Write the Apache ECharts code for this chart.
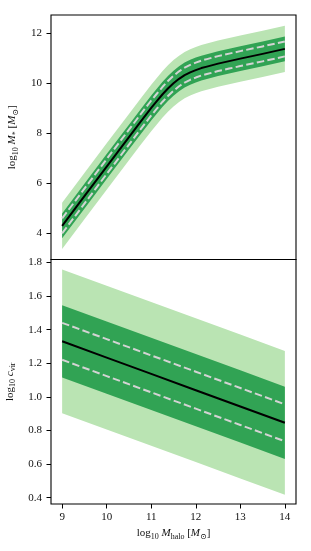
<!DOCTYPE html>
<html>
<head>
<meta charset="utf-8">
<script src="https://cdn.jsdelivr.net/npm/echarts@6/dist/echarts.min.js"></script>
<style>
html,body{margin:0;padding:0;background:#fff;}
#c{width:311px;height:551px;}
</style>
</head>
<body>
<div id="c"></div>
<script>
// ---- Top panel: stellar mass vs halo mass ----
const topX = [9, 9.5, 10, 10.5, 10.75, 11, 11.125, 11.25, 11.375, 11.5, 11.625, 11.75, 11.875, 12, 12.125, 12.25, 12.5, 12.75, 13, 13.5, 14];
const topMedian = [4.28, 5.47, 6.66, 7.84, 8.43, 9.01, 9.28, 9.55, 9.79, 10.00, 10.18, 10.33, 10.44, 10.53, 10.61, 10.67, 10.79, 10.89, 10.99, 11.18, 11.38];
const topDashUp = [4.58, 5.77, 6.96, 8.14, 8.73, 9.31, 9.58, 9.85, 10.09, 10.30, 10.48, 10.63, 10.74, 10.83, 10.91, 10.97, 11.09, 11.19, 11.29, 11.48, 11.68];
const topDashLo = [3.98, 5.17, 6.36, 7.54, 8.13, 8.71, 8.98, 9.25, 9.49, 9.70, 9.88, 10.03, 10.14, 10.23, 10.31, 10.37, 10.49, 10.59, 10.69, 10.88, 11.08];
const topDarkUp = [4.78, 5.97, 7.16, 8.34, 8.93, 9.51, 9.78, 10.05, 10.29, 10.50, 10.68, 10.83, 10.94, 11.03, 11.11, 11.17, 11.29, 11.39, 11.49, 11.68, 11.88];
const topDarkLo = [3.78, 4.97, 6.16, 7.34, 7.93, 8.51, 8.78, 9.05, 9.29, 9.50, 9.68, 9.83, 9.94, 10.03, 10.11, 10.17, 10.29, 10.39, 10.49, 10.68, 10.88];
const topLightUp = [5.21, 6.40, 7.59, 8.77, 9.36, 9.94, 10.21, 10.48, 10.72, 10.93, 11.11, 11.26, 11.37, 11.46, 11.54, 11.60, 11.72, 11.82, 11.92, 12.11, 12.31];
const topLightLo = [3.35, 4.54, 5.73, 6.91, 7.50, 8.08, 8.35, 8.62, 8.86, 9.07, 9.25, 9.40, 9.51, 9.60, 9.68, 9.74, 9.86, 9.96, 10.06, 10.25, 10.45];

// ---- Bottom panel: concentration vs halo mass ----
const botX = [9, 10, 11, 12, 13, 14];
const botMedian = [1.331, 1.234, 1.137, 1.040, 0.943, 0.846];
const botDashUp = [1.441, 1.344, 1.247, 1.150, 1.053, 0.956];
const botDashLo = [1.221, 1.124, 1.027, 0.930, 0.833, 0.736];
const botDarkUp = [1.546, 1.449, 1.352, 1.255, 1.158, 1.061];
const botDarkLo = [1.116, 1.019, 0.922, 0.825, 0.728, 0.631];
const botLightUp = [1.759, 1.662, 1.565, 1.468, 1.371, 1.274];
const botLightLo = [0.903, 0.806, 0.709, 0.612, 0.515, 0.418];

// ---- Tick labels ----
const xTicks = [9, 10, 11, 12, 13, 14];
const topYTicks = [4, 6, 8, 10, 12];
const botYTicks = [0.4, 0.6, 0.8, 1.0, 1.2, 1.4, 1.6, 1.8];

const LIGHT = '#bae4b3';
const DARK = '#31a354';
const DASH = '#d3d3d3';
const FONT = '"Liberation Serif", "DejaVu Serif", serif';

function pairs(xs, ys) { return xs.map((x, i) => [x, ys[i]]); }

// Filled band between lo and up, drawn as a polygon through the axis scales
function band(xs, lo, up, color, gi) {
  return {
    type: 'custom', xAxisIndex: gi, yAxisIndex: gi, silent: true,
    data: [0],
    renderItem: function (params, api) {
      const pts = [];
      for (let i = 0; i < xs.length; i++) pts.push(api.coord([xs[i], up[i]]));
      for (let i = xs.length - 1; i >= 0; i--) pts.push(api.coord([xs[i], lo[i]]));
      return { type: 'polygon', shape: { points: pts }, style: { fill: color, stroke: null } };
    }
  };
}
function line(xs, ys, color, width, type, gi) {
  return { type: 'line', xAxisIndex: gi, yAxisIndex: gi, data: pairs(xs, ys), symbol: 'none',
    smooth: false, lineStyle: { color: color, width: width, type: type, cap: 'butt', join: 'round' }, silent: true };
}

const rich = {
  r: { fontFamily: FONT, fontSize: 11, color: '#111', lineHeight: 15, verticalAlign: 'middle' },
  i: { fontFamily: FONT, fontSize: 11, fontStyle: 'italic', color: '#111', lineHeight: 15, verticalAlign: 'middle' },
  s: { fontFamily: FONT, fontSize: 8, color: '#111', lineHeight: 9, verticalAlign: 'bottom' }
};

const tickLabel = { fontFamily: FONT, fontSize: 11, color: '#111' };

const chart = echarts.init(document.getElementById('c'), null, { renderer: 'canvas' });
chart.setOption({
  animation: false,
  backgroundColor: '#fff',
  grid: [
    { left: 51, top: 15, width: 245, height: 244.5, show: true, borderColor: '#000', borderWidth: 1.1,
      backgroundColor: 'transparent', z: 10, containLabel: false, outerBoundsMode: 'none' },
    { left: 51, top: 259.5, width: 245, height: 244.5, show: true, borderColor: '#000', borderWidth: 1.1,
      backgroundColor: 'transparent', z: 10, containLabel: false, outerBoundsMode: 'none' }
  ],
  xAxis: [
    { type: 'value', gridIndex: 0, min: 8.75, max: 14.25,
      axisLine: { show: false }, axisTick: { show: false }, axisLabel: { show: false }, splitLine: { show: false } },
    { type: 'value', gridIndex: 1, min: 8.75, max: 14.25,
      axisLine: { show: false },
      axisTick: { show: true, inside: false, length: 4.5, lineStyle: { color: '#000', width: 1 }, customValues: xTicks },
      axisLabel: Object.assign({ margin: 8, customValues: xTicks, formatter: v => String(v) }, tickLabel),
      splitLine: { show: false },
      name: '{r|log}{s|10}{r| }{i|M}{s|halo}{r| [}{i|M}{s|⊙}{r|]}',
      nameLocation: 'middle', nameGap: 22, nameTextStyle: { rich: rich } }
  ],
  yAxis: [
    { type: 'value', gridIndex: 0, min: 2.93, max: 12.74,
      axisLine: { show: false },
      axisTick: { show: true, inside: false, length: 4.5, lineStyle: { color: '#000', width: 1 }, customValues: topYTicks },
      axisLabel: Object.assign({ margin: 9, customValues: topYTicks, formatter: v => String(v) }, tickLabel),
      splitLine: { show: false },
      name: '{r|log}{s|10}{r| }{i|M}{s|*}{r| [}{i|M}{s|⊙}{r|]}',
      nameLocation: 'middle', nameGap: 26, nameRotate: 90, nameTextStyle: { rich: rich } },
    { type: 'value', gridIndex: 1, min: 0.3625, max: 1.818,
      axisLine: { show: false },
      axisTick: { show: true, inside: false, length: 4.5, lineStyle: { color: '#000', width: 1 }, customValues: botYTicks },
      axisLabel: Object.assign({ margin: 9, customValues: botYTicks, formatter: v => v.toFixed(1) }, tickLabel),
      splitLine: { show: false },
      name: '{r|log}{s|10}{r| }{i|c}{s|vir}',
      nameLocation: 'middle', nameGap: 32, nameRotate: 90, nameTextStyle: { rich: rich } }
  ],
  series: [
    band(topX, topLightLo, topLightUp, LIGHT, 0),
    band(topX, topDarkLo, topDarkUp, DARK, 0),
    line(topX, topDashUp, DASH, 2, [7.5, 3.3], 0),
    line(topX, topDashLo, DASH, 2, [7.5, 3.3], 0),
    line(topX, topMedian, '#000', 2, 'solid', 0),
    band(botX, botLightLo, botLightUp, LIGHT, 1),
    band(botX, botDarkLo, botDarkUp, DARK, 1),
    line(botX, botDashUp, DASH, 2, [7.5, 3.3], 1),
    line(botX, botDashLo, DASH, 2, [7.5, 3.3], 1),
    line(botX, botMedian, '#000', 2, 'solid', 1)
  ]
});
</script>
</body>
</html>
